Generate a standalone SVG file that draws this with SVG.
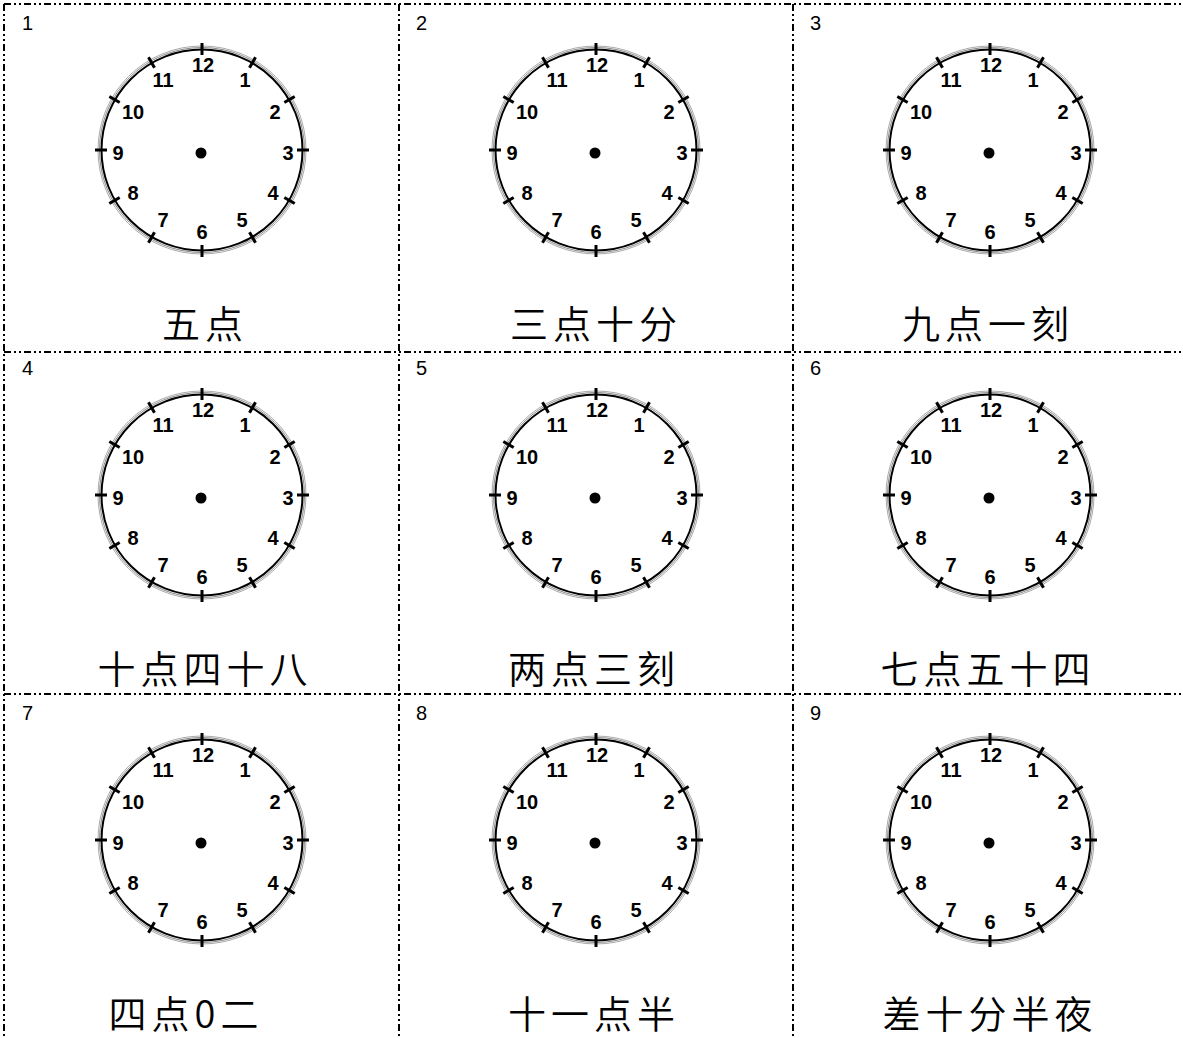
<svg xmlns="http://www.w3.org/2000/svg" xmlns:xlink="http://www.w3.org/1999/xlink" width="1183" height="1038" viewBox="0 0 1183 1038">
<style>
.grid{stroke:#000;stroke-width:2;stroke-dasharray:7 3 2 3 2 3;fill:none}
.num{font-family:"Liberation Sans",Arial,sans-serif;font-weight:bold;font-size:20px;text-anchor:middle;fill:#000}
.idx{font-family:"Liberation Sans",Arial,sans-serif;font-size:20px;fill:#000}
.cap{font-family:"Noto Sans CJK SC","Noto Sans CJK TC",sans-serif;font-weight:350;font-size:38px;letter-spacing:5px;text-anchor:middle;fill:#000}
.tick{stroke:#000;stroke-width:3}
</style>
<defs>
<g id="clock">
<circle cx="202" cy="150" r="104" fill="none" stroke="#aaa" stroke-width="1"/>
<circle cx="202" cy="150" r="102.5" fill="none" stroke="#888" stroke-width="1"/>
<circle cx="202" cy="150" r="100.5" fill="none" stroke="#000" stroke-width="2"/>
<g class="tick">
<line x1="202" y1="43" x2="202" y2="55"/>
<line x1="202" y1="245" x2="202" y2="257"/>
<line x1="95" y1="150" x2="107" y2="150"/>
<line x1="297" y1="150" x2="309" y2="150"/>
<line x1="255.5" y1="57.3" x2="249.5" y2="67.7"/>
<line x1="148.5" y1="57.3" x2="154.5" y2="67.7"/>
<line x1="255.5" y1="242.7" x2="249.5" y2="232.3"/>
<line x1="148.5" y1="242.7" x2="154.5" y2="232.3"/>
<line x1="294.7" y1="96.5" x2="284.3" y2="102.5"/>
<line x1="109.3" y1="96.5" x2="119.7" y2="102.5"/>
<line x1="294.7" y1="203.5" x2="284.3" y2="197.5"/>
<line x1="109.3" y1="203.5" x2="119.7" y2="197.5"/>
</g>
<circle cx="201" cy="153" r="5.5" fill="#000"/>
<text class="num" x="203" y="72">12</text>
<text class="num" x="245" y="87">1</text>
<text class="num" x="275" y="119">2</text>
<text class="num" x="288" y="160">3</text>
<text class="num" x="273" y="200">4</text>
<text class="num" x="242" y="227">5</text>
<text class="num" x="202" y="239">6</text>
<text class="num" x="163" y="227">7</text>
<text class="num" x="133" y="200">8</text>
<text class="num" x="118" y="160">9</text>
<text class="num" x="133" y="119">10</text>
<text class="num" x="163" y="87">11</text>
</g>
</defs>
<rect width="1183" height="1038" fill="#fff"/>
<g id="connectors">
<line class="grid" x1="4" y1="4" x2="1183" y2="4"/>
<line class="grid" x1="4" y1="352" x2="1183" y2="352"/>
<line class="grid" x1="4" y1="694" x2="1183" y2="694"/>
<line class="grid" x1="4" y1="4" x2="4" y2="1038"/>
<line class="grid" x1="399" y1="4" x2="399" y2="1038"/>
<line class="grid" x1="793" y1="4" x2="793" y2="1038"/>
</g>
<g id="cell1"><text class="idx" x="22" y="30">1</text><use href="#clock"/><text class="cap" x="205" y="338">五点</text></g>
<g id="cell2" transform="translate(394,0)"><text class="idx" x="22" y="30">2</text><use href="#clock"/><text class="cap" x="202" y="338">三点十分</text></g>
<g id="cell3" transform="translate(788,0)"><text class="idx" x="22" y="30">3</text><use href="#clock"/><text class="cap" x="200" y="338">九点一刻</text></g>
<g id="cell4" transform="translate(0,345)"><text class="idx" x="22" y="30">4</text><use href="#clock"/><text class="cap" x="205" y="338">十点四十八</text></g>
<g id="cell5" transform="translate(394,345)"><text class="idx" x="22" y="30">5</text><use href="#clock"/><text class="cap" x="200" y="338">两点三刻</text></g>
<g id="cell6" transform="translate(788,345)"><text class="idx" x="22" y="30">6</text><use href="#clock"/><text class="cap" x="200" y="338">七点五十四</text></g>
<g id="cell7" transform="translate(0,690)"><text class="idx" x="22" y="30">7</text><use href="#clock"/><text class="cap" x="186" y="338">四点0二</text></g>
<g id="cell8" transform="translate(394,690)"><text class="idx" x="22" y="30">8</text><use href="#clock"/><text class="cap" x="200" y="338">十一点半</text></g>
<g id="cell9" transform="translate(788,690)"><text class="idx" x="22" y="30">9</text><use href="#clock"/><text class="cap" x="202" y="338">差十分半夜</text></g>
</svg>
